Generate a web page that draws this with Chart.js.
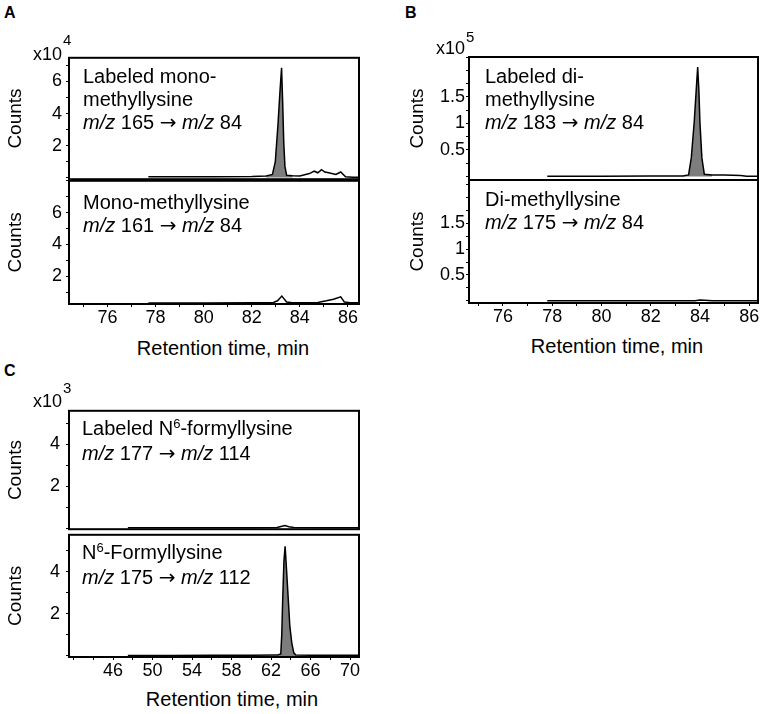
<!DOCTYPE html>
<html>
<head>
<meta charset="utf-8">
<script src="https://cdn.jsdelivr.net/npm/chart.js@4.4.1/dist/chart.umd.min.js"></script>
<style>
  body { margin: 0; background: #fff; }
  #fig { position: relative; width: 764px; height: 714px; overflow: hidden; font-family: "Liberation Sans", Arial, sans-serif; color: #000; }
  #fig canvas { position: absolute; }
  .txt { position: absolute; font-size: 20px; line-height: 23px; white-space: nowrap; }
  .txt .arr { font-family: "DejaVu Sans", sans-serif; font-size: 20px; }
  .txt sup { font-size: 13px; vertical-align: baseline; position: relative; top: -7px; }
  .xt { position: absolute; width: 220px; text-align: center; font-size: 20px; line-height: 24px; white-space: nowrap; }
  .panel { position: absolute; font-size: 16px; font-weight: bold; line-height: 16px; }
  .exp { position: absolute; font-size: 18px; line-height: 18px; white-space: nowrap; }
  .exp sup { font-size: 15px; vertical-align: baseline; position: relative; margin-left: 1px; }
</style>
</head>
<body>
<div id="fig">
  <div class="panel" style="left:4px;top:5px">A</div>
  <div class="panel" style="left:405px;top:5px">B</div>
  <div class="panel" style="left:4px;top:363px">C</div>

  <div class="exp" style="left:33px;top:45px">x10<sup style="top:-15px">4</sup></div>
  <div class="exp" style="left:436px;top:39px">x10<sup style="top:-12px">5</sup></div>
  <div class="exp" style="left:33px;top:392px">x10<sup style="top:-14px">3</sup></div>

  <div class="txt" style="left:83px;top:65px">Labeled mono-<br>methyllysine<br><i>m/z</i> 165 <span class="arr">&rarr;</span> <i>m/z</i> 84</div>
  <div class="txt" style="left:83px;top:191px">Mono-methyllysine<br><i>m/z</i> 161 <span class="arr">&rarr;</span> <i>m/z</i> 84</div>
  <div class="txt" style="left:485px;top:65px">Labeled di-<br>methyllysine<br><i>m/z</i> 183 <span class="arr">&rarr;</span> <i>m/z</i> 84</div>
  <div class="txt" style="left:485px;top:188px">Di-methyllysine<br><i>m/z</i> 175 <span class="arr">&rarr;</span> <i>m/z</i> 84</div>
  <div class="txt" style="left:82px;top:417px">Labeled N<sup>6</sup>-formyllysine<br><i>m/z</i> 177 <span class="arr">&rarr;</span> <i>m/z</i> 114</div>
  <div class="txt" style="left:82px;top:541px">N<sup>6</sup>-Formyllysine<br><i>m/z</i> 175 <span class="arr">&rarr;</span> <i>m/z</i> 112</div>

  <div class="xt" style="left:113px;top:336px">Retention time, min</div>
  <div class="xt" style="left:507px;top:334px">Retention time, min</div>
  <div class="xt" style="left:122px;top:687px">Retention time, min</div>
</div>
<script>
// Panel A: labeled mono-methyllysine, m/z 165 -> 84 (counts x10^4)
const timeLabeledMono = [77.7, 79, 80.5, 82, 82.6, 82.86, 82.98, 83.09, 83.17, 83.24, 83.29, 83.33, 83.38, 83.45, 83.7, 84.0, 84.4, 84.6, 84.75, 84.9, 85.04, 85.2, 85.5, 85.7, 85.9, 86.2, 86.46];
const countsLabeledMono = [0.05, 0.05, 0.06, 0.07, 0.1, 0.2, 1.0, 3.3, 5.3, 6.85, 4.5, 2.2, 0.7, 0.15, 0.12, 0.1, 0.25, 0.4, 0.3, 0.5, 0.35, 0.3, 0.2, 0.35, 0.05, 0.02, 0.02];

// Panel A: mono-methyllysine, m/z 161 -> 84 (counts x10^4)
const timeMono = [77.7, 80, 82, 82.9, 83.07, 83.25, 83.45, 83.7, 84.5, 84.75, 85.1, 85.4, 85.7, 85.85, 86.1, 86.46];
const countsMono = [0.32, 0.32, 0.33, 0.35, 0.45, 0.75, 0.38, 0.33, 0.33, 0.35, 0.45, 0.55, 0.7, 0.38, 0.33, 0.33];

// Panel B: labeled di-methyllysine, m/z 183 -> 84 (counts x10^5)
const timeLabeledDi = [77.8, 80, 82, 83.3, 83.54, 83.65, 83.77, 83.86, 83.91, 83.96, 84.0, 84.08, 84.18, 84.5, 85.0, 85.66, 85.9, 86.36];
const countsLabeledDi = [0.005, 0.005, 0.008, 0.01, 0.03, 0.35, 1.03, 1.7, 2.06, 1.6, 1.03, 0.35, 0.04, 0.03, 0.03, 0.02, 0.005, 0.005];

// Panel B: di-methyllysine, m/z 175 -> 84 (counts x10^5)
const timeDi = [77.8, 80, 82, 83.8, 84.0, 84.2, 84.5, 86.36];
const countsDi = [0.005, 0.005, 0.005, 0.005, 0.02, 0.015, 0.005, 0.005];

// Panel C: labeled N6-formyllysine, m/z 177 -> 114 (counts x10^3)
const timeLabeledFormyl = [47.5, 52, 56, 60, 62.6, 63.0, 63.4, 63.8, 64.3, 68, 70.9];
const countsLabeledFormyl = [0.02, 0.02, 0.02, 0.02, 0.03, 0.08, 0.12, 0.07, 0.03, 0.02, 0.02];

// Panel C: N6-formyllysine, m/z 175 -> 112 (counts x10^3)
const timeFormyl = [47.5, 52, 56, 60, 62.6, 62.98, 63.08, 63.17, 63.3, 63.42, 63.55, 63.75, 63.9, 64.1, 64.3, 64.5, 66, 70.9];
const countsFormyl = [0.02, 0.02, 0.03, 0.03, 0.04, 0.1, 1.0, 2.6, 4.5, 5.2, 4.2, 2.6, 1.4, 0.6, 0.15, 0.05, 0.03, 0.03];

// axis tick labels
const yLabelsA = [2, 4, 6];
const yLabelsB = [0.5, 1, 1.5];
const yLabelsC = [2, 4];
const xLabelsAB = [76, 78, 80, 82, 84, 86];
const xLabelsC = [46, 50, 54, 58, 62, 66, 70];

const FONT = '"Liberation Sans", Arial, sans-serif';

// draws the black frame around each plot area
const boxPlugin = {
  id: 'box',
  afterDraw(chart) {
    const { ctx, chartArea: a } = chart;
    ctx.save();
    ctx.strokeStyle = '#000';
    ctx.lineWidth = 2;
    ctx.strokeRect(a.left, a.top, a.right - a.left, a.bottom - a.top);
    ctx.restore();
  }
};

function near(list, v) {
  return list.some(l => Math.abs(l - v) < 1e-6);
}

function makePlot(cfg) {
  const fig = document.getElementById('fig');
  const canvas = document.createElement('canvas');
  const pad = 14;
  const xh = 30;
  const yw = cfg.box.left - cfg.panelLeft;
  const cLeft = cfg.panelLeft;
  const cTop = cfg.box.top - pad;
  const cBottom = cfg.box.bottom + (cfg.showX ? xh : pad);
  canvas.width = cfg.box.right - cLeft + 6;
  canvas.height = cBottom - cTop;
  canvas.style.left = cLeft + 'px';
  canvas.style.top = cTop + 'px';
  fig.insertBefore(canvas, fig.firstChild);

  const points = cfg.time.map((t, i) => ({ x: t, y: cfg.counts[i] }));
  const datasets = [{
    data: points,
    borderColor: '#000',
    borderWidth: 1.5,
    pointRadius: 0,
    fill: false,
    tension: 0
  }];
  if (cfg.peak) {
    // grey filled area under the main peak
    datasets.push({
      data: points.filter(p => p.x >= cfg.peak[0] && p.x <= cfg.peak[1]),
      borderWidth: 0,
      pointRadius: 0,
      backgroundColor: '#7d7d7d',
      fill: 'origin',
      tension: 0
    });
  }

  new Chart(canvas, {
    type: 'line',
    data: { datasets },
    plugins: [boxPlugin],
    options: {
      responsive: false,
      animation: false,
      layout: { padding: { top: pad, right: 6, bottom: cfg.showX ? 0 : pad, left: 0 } },
      plugins: { legend: { display: false }, tooltip: { enabled: false } },
      scales: {
        x: {
          type: 'linear',
          min: cfg.xMin,
          max: cfg.xMax,
          display: cfg.showX,
          afterFit: s => { if (cfg.showX) s.height = xh; },
          border: { display: false },
          grid: { drawOnChartArea: false, drawTicks: true, tickLength: 3, color: '#000' },
          ticks: {
            stepSize: cfg.xStep,
            includeBounds: false,
            autoSkip: false,
            maxRotation: 0,
            padding: 0,
            color: '#000',
            font: { family: FONT, size: 18 },
            callback: v => near(cfg.xLabels, v) ? String(v) : ''
          }
        },
        y: {
          min: cfg.yMin,
          max: cfg.yMax,
          afterFit: s => { s.width = yw; },
          border: { display: false },
          grid: { drawOnChartArea: false, drawTicks: true, tickLength: 3, color: '#000' },
          ticks: {
            stepSize: cfg.yStep,
            includeBounds: false,
            autoSkip: false,
            padding: cfg.yPad,
            color: '#000',
            font: { family: FONT, size: 18 },
            callback: v => near(cfg.yLabels, v) ? String(v) : ''
          },
          title: { display: true, text: 'Counts', color: '#000', font: { family: FONT, size: 19 }, padding: { top: 4, bottom: 0 } }
        }
      }
    }
  });
}

// Panel A
makePlot({ panelLeft: 0, box: { left: 69, right: 359, top: 57, bottom: 180 }, showX: false,
  time: timeLabeledMono, counts: countsLabeledMono, peak: [82.6, 83.7],
  xMin: 74.4, xMax: 86.46, xStep: 1, xLabels: xLabelsAB,
  yMin: -0.1, yMax: 7.48, yStep: 1, yLabels: yLabelsA, yPad: 4 });
makePlot({ panelLeft: 0, box: { left: 69, right: 359, top: 180, bottom: 304 }, showX: true,
  time: timeMono, counts: countsMono,
  xMin: 74.4, xMax: 86.46, xStep: 1, xLabels: xLabelsAB,
  yMin: 0.25, yMax: 8.0, yStep: 1, yLabels: yLabelsA, yPad: 4 });

// Panel B
makePlot({ panelLeft: 402, box: { left: 469, right: 758, top: 57, bottom: 180 }, showX: false,
  time: timeLabeledDi, counts: countsLabeledDi, peak: [83.3, 84.5],
  xMin: 74.62, xMax: 86.36, xStep: 1, xLabels: xLabelsAB,
  yMin: -0.066, yMax: 2.25, yStep: 0.25, yLabels: yLabelsB, yPad: 1 });
makePlot({ panelLeft: 402, box: { left: 469, right: 758, top: 180, bottom: 303 }, showX: true,
  time: timeDi, counts: countsDi,
  xMin: 74.62, xMax: 86.36, xStep: 1, xLabels: xLabelsAB,
  yMin: -0.04, yMax: 2.33, yStep: 0.25, yLabels: yLabelsB, yPad: 1 });

// Panel C
makePlot({ panelLeft: 0, box: { left: 69, right: 359, top: 408, bottom: 532 }, showX: false,
  time: timeLabeledFormyl, counts: countsLabeledFormyl,
  xMin: 41.54, xMax: 70.9, xStep: 2, xLabels: xLabelsC,
  yMin: -0.05, yMax: 5.6, yStep: 1, yLabels: yLabelsC, yPad: 6 });
makePlot({ panelLeft: 0, box: { left: 69, right: 359, top: 532, bottom: 657 }, showX: true,
  time: timeFormyl, counts: countsFormyl, peak: [62.6, 64.5],
  xMin: 41.54, xMax: 70.9, xStep: 2, xLabels: xLabelsC,
  yMin: -0.05, yMax: 5.75, yStep: 1, yLabels: yLabelsC, yPad: 6 });
</script>
</body>
</html>
